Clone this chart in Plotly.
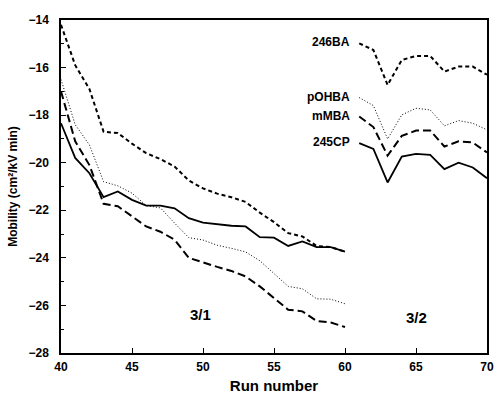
import plotly.graph_objects as go

runs_31 = list(range(40, 61))
runs_32 = list(range(61, 71))

ba246_31 = [-14.2, -15.9, -16.9, -18.7, -18.75, -19.2, -19.6, -19.85, -20.16, -20.75, -21.08,
            -21.3, -21.45, -21.65, -22.1, -22.5, -22.96, -23.1, -23.5, -23.55, -23.74]
pohba_31 = [-16.5, -18.4, -19.25, -20.8, -20.97, -21.28, -21.8, -21.9, -22.54, -23.15, -23.25,
            -23.47, -23.6, -23.75, -24.12, -24.65, -25.2, -25.3, -25.72, -25.74, -25.93]
mmba_31 = [-17.0, -19.1, -20.1, -21.73, -21.83, -22.26, -22.68, -22.9, -23.24, -24.0, -24.2,
           -24.38, -24.55, -24.78, -25.2, -25.7, -26.18, -26.25, -26.65, -26.72, -26.91]
cp245_31 = [-18.34, -19.8, -20.44, -21.45, -21.21, -21.56, -21.8, -21.8, -21.92, -22.33, -22.52,
            -22.6, -22.65, -22.68, -23.13, -23.15, -23.5, -23.31, -23.55, -23.55, -23.74]

ba246_32 = [-14.98, -15.26, -16.73, -15.68, -15.51, -15.51, -16.17, -15.96, -15.96, -16.3]
pohba_32 = [-17.26, -17.6, -19.0, -17.99, -17.71, -17.78, -18.45, -18.23, -18.34, -18.62]
mmba_32 = [-18.06, -18.5, -19.7, -18.87, -18.65, -18.65, -19.32, -19.1, -19.15, -19.57]
cp245_32 = [-19.18, -19.42, -20.83, -19.74, -19.63, -19.67, -20.27, -20.0, -20.2, -20.65]

names = ["246BA", "pOHBA", "mMBA", "245CP"]
series = [(ba246_31, ba246_32), (pohba_31, pohba_32), (mmba_31, mmba_32), (cp245_31, cp245_32)]
styles = [dict(dash="4px,3px", width=2), dict(dash="1px,2px", width=1),
          dict(dash="8px,4px", width=2), dict(dash="solid", width=1.8)]

x_ticks = [40, 45, 50, 55, 60, 65, 70]
y_ticks = [-28, -26, -24, -22, -20, -18, -16, -14]

fig = go.Figure()
for name, (a, b), st in zip(names, series, styles):
    xs = runs_31 + [None] + runs_32
    ys = a + [None] + b
    fig.add_trace(go.Scatter(x=xs, y=ys, mode="lines", name=name, connectgaps=False,
                             line=dict(color="black", **st), showlegend=False))
    fig.add_annotation(x=runs_32[0], y=b[0], text=name, showarrow=False, xanchor="right",
                       xshift=-7, yshift=1, font=dict(size=12, color="black", family="Arial", weight="bold"))

fig.add_annotation(x=49.8, y=-26.4, text="3/1", showarrow=False,
                   font=dict(size=15, color="black", family="Arial", weight="bold"))
fig.add_annotation(x=65.0, y=-26.5, text="3/2", showarrow=False,
                   font=dict(size=15, color="black", family="Arial", weight="bold"))

axis_font = dict(size=12, color="black", family="Arial", weight="bold")
fig.update_layout(
    width=496, height=394,
    margin=dict(l=61, r=9, t=20, b=41),
    paper_bgcolor="white", plot_bgcolor="white",
    xaxis=dict(range=[40, 70], tickvals=x_ticks, ticks="inside", ticklen=5, tickwidth=1.2,
               tickcolor="black", showgrid=False, zeroline=False, showline=True, linecolor="black",
               linewidth=1.5, mirror=True, tickfont=axis_font, automargin=False,
               ticklabelstandoff=2,
               title=dict(text="Run number", standoff=7,
                          font=dict(size=15, color="black", family="Arial", weight="bold"))),
    yaxis=dict(range=[-28, -14], tickvals=y_ticks, ticks="inside", ticklen=5, tickwidth=1.2,
               tickcolor="black", showgrid=False, zeroline=False, showline=True, linecolor="black",
               linewidth=1.5, mirror=True, tickfont=axis_font, automargin=False,
               ticklabelstandoff=8,
               minor=dict(dtick=1, ticks="inside", ticklen=3, tickcolor="black", showgrid=False),
               title=dict(text="Mobility (cm²/kV min)", standoff=8,
                          font=dict(size=12, color="black", family="Arial", weight="bold"))),
)

fig.write_html("out.html", config={"displayModeBar": False},
               post_script="document.body.style.margin='0px';document.body.style.overflow='hidden';")
